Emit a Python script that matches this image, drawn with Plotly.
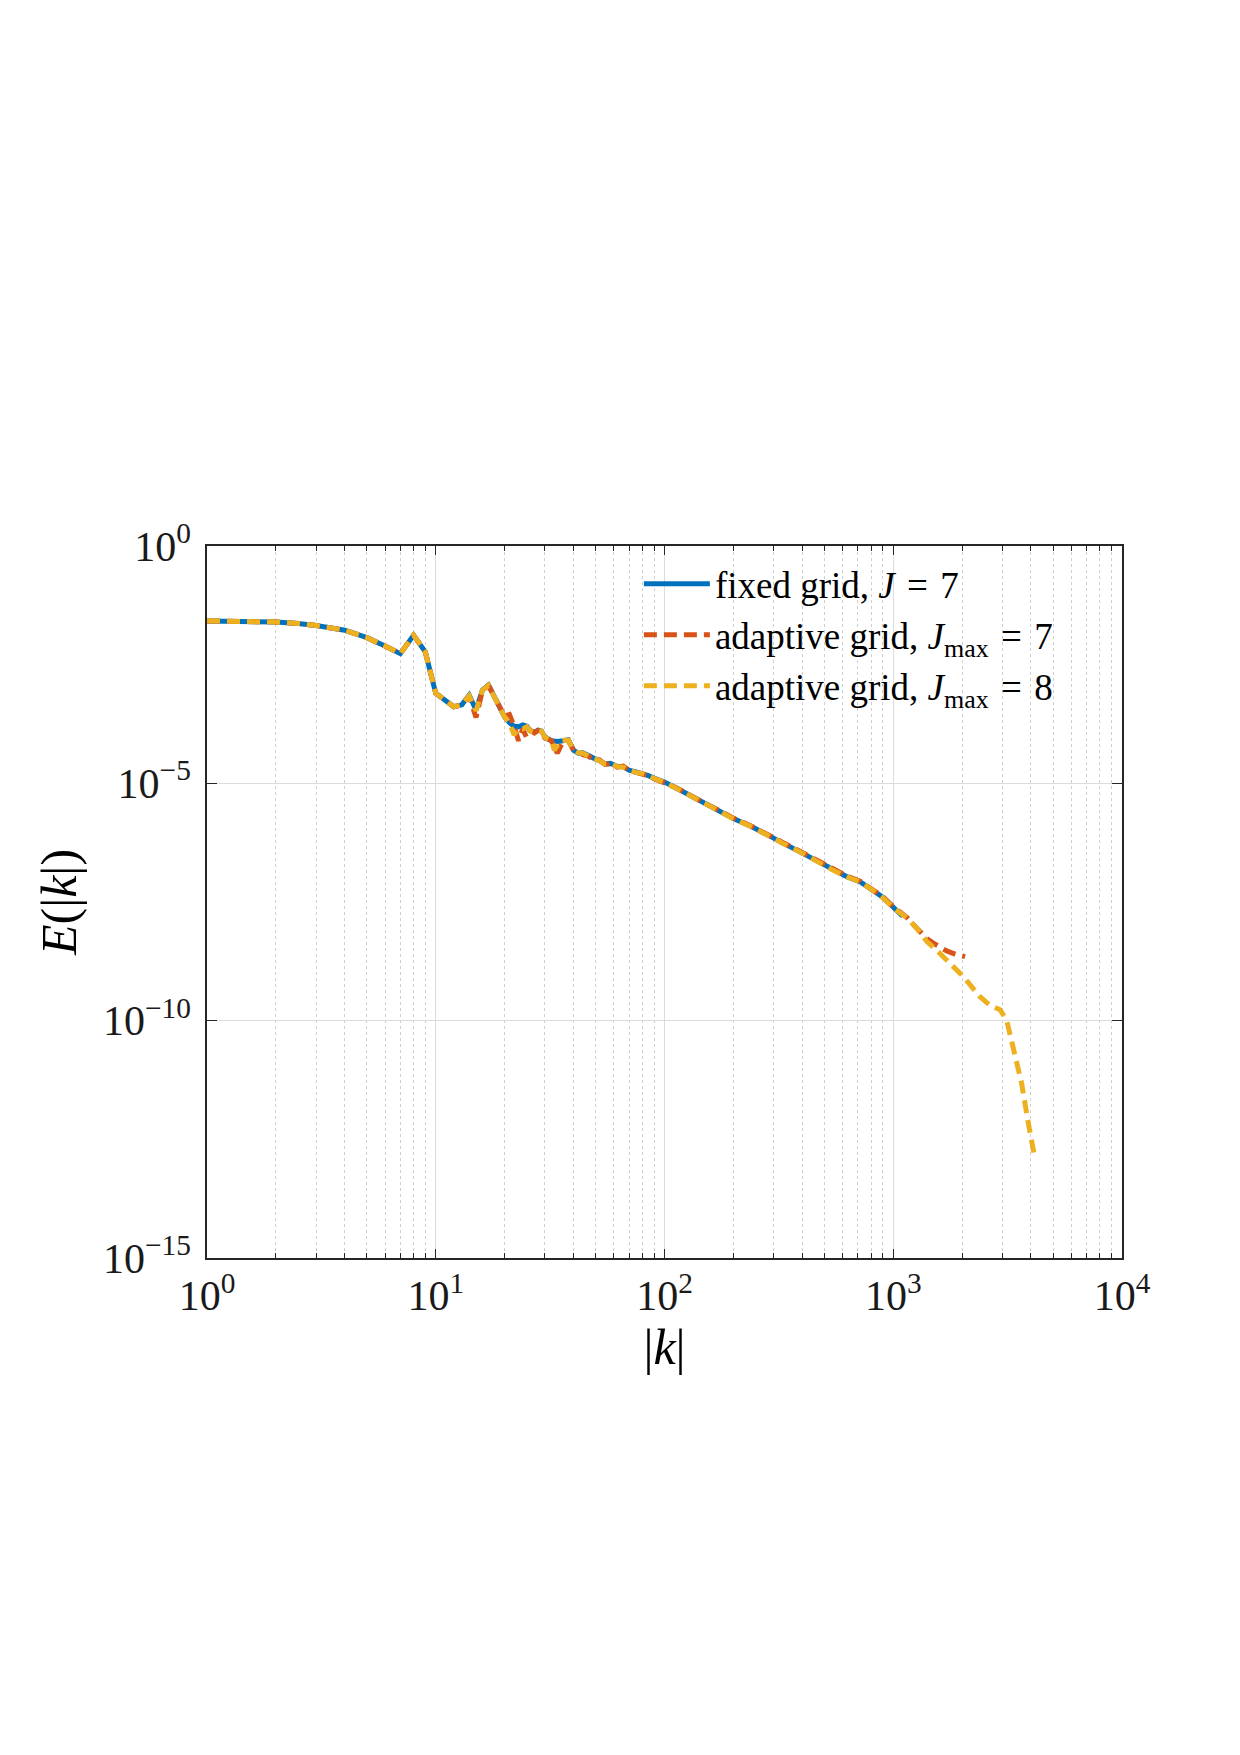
import plotly.graph_objects as go

# ---- data ----
k_fixed = [1, 1.5, 2, 2.5, 3, 4, 5, 6, 7, 8, 9, 10, 11, 12, 13, 14, 15, 16, 17, 18, 19,
           20, 21, 22, 23, 24, 25, 26, 27, 28, 29, 30, 32, 34, 36, 38, 40, 42, 44, 46, 49,
           52, 55, 58, 62, 66, 70, 75, 80, 85, 90, 95, 100, 113, 129, 143, 170, 200, 240,
           280, 330, 391, 460, 547, 630, 716, 800, 900, 1011, 1100]
E_fixed = [2.64e-2, 2.60e-2, 2.51e-2, 2.34e-2, 2.11e-2, 1.68e-2, 1.17e-2, 7.8e-3, 5.4e-3,
           1.32e-2, 5.9e-3, 7.9e-4, 5.8e-4, 4.1e-4, 4.5e-4, 7.2e-4, 3.5e-4, 9.3e-4, 1.17e-3,
           7.1e-4, 4.2e-4, 2.5e-4, 1.9e-4, 1.6e-4, 1.55e-4, 1.7e-4, 1.6e-4, 1.26e-4, 1.2e-4,
           1.32e-4, 1.26e-4, 9.5e-5, 7.9e-5, 7.6e-5, 7.9e-5, 8.3e-5, 5.0e-5, 4.3e-5, 4.4e-5,
           3.9e-5, 3.4e-5, 3.0e-5, 2.57e-5, 2.63e-5, 2.29e-5, 2.24e-5, 1.9e-5, 1.74e-5,
           1.62e-5, 1.45e-5, 1.29e-5, 1.2e-5, 1.07e-5, 7.9e-6, 5.6e-6, 4.3e-6, 2.8e-6, 1.82e-6,
           1.23e-6, 8.1e-7, 5.5e-7, 3.6e-7, 2.34e-7, 1.48e-7, 1.07e-7, 8.5e-8, 6.0e-8, 4.0e-8,
           2.34e-8, 1.58e-8]

k_adapt7 = [1, 1.5, 2, 2.5, 3, 4, 5, 6, 7, 8, 9, 10, 11, 12, 13, 14, 15, 16, 17, 18, 19,
            20, 21, 22, 23, 24, 25, 26, 27, 28, 29, 30, 32, 34, 36, 38, 40, 42, 44, 46, 49,
            52, 55, 58, 62, 66, 70, 75, 80, 85, 90, 95, 100, 113, 129, 143, 170, 200, 240,
            280, 330, 391, 460, 547, 630, 716, 800, 900, 1011, 1150, 1266, 1400, 1497, 1600,
            1713, 1850, 2060]
E_adapt7 = [2.64e-2, 2.60e-2, 2.51e-2, 2.34e-2, 2.11e-2, 1.68e-2, 1.17e-2, 7.8e-3, 5.4e-3,
            1.32e-2, 5.9e-3, 7.9e-4, 5.8e-4, 4.1e-4, 4.5e-4, 6.9e-4, 2.45e-4, 9.0e-4, 1.15e-3,
            6.8e-4, 4.0e-4, 2.6e-4, 2.8e-4, 1.6e-4, 7.9e-5, 1.4e-4, 9.1e-5, 1.3e-4, 1.15e-4,
            1.3e-4, 1.2e-4, 9.0e-5, 8.0e-5, 4.3e-5, 7.8e-5, 8.0e-5, 5.0e-5, 4.8e-5, 4.0e-5,
            3.8e-5, 3.2e-5, 3.1e-5, 2.5e-5, 2.6e-5, 2.2e-5, 2.3e-5, 1.85e-5, 1.7e-5, 1.55e-5,
            1.45e-5, 1.25e-5, 1.15e-5, 1.02e-5, 8.0e-6, 5.5e-6, 4.3e-6, 2.8e-6, 1.85e-6,
            1.25e-6, 8.3e-7, 5.6e-7, 3.7e-7, 2.4e-7, 1.5e-7, 1.1e-7, 8.7e-8, 6.2e-8, 4.1e-8,
            2.4e-8, 1.48e-8, 8.9e-9, 5.4e-9, 4.3e-9, 3.5e-9, 2.95e-9, 2.57e-9, 2.24e-9]

k_adapt8 = [1, 1.5, 2, 2.5, 3, 4, 5, 6, 7, 8, 9, 10, 11, 12, 13, 14, 15, 16, 17, 18, 19,
            20, 21, 22, 23, 24, 25, 26, 27, 28, 29, 30, 32, 33, 35, 38, 40, 42, 44, 46, 49,
            52, 55, 58, 62, 66, 70, 75, 80, 85, 90, 95, 100, 113, 129, 143, 170, 200, 240,
            280, 330, 391, 460, 547, 630, 716, 800, 900, 1011, 1150, 1266, 1400, 1601, 1800,
            2024, 2200, 2394, 2650, 2930, 3133, 3300, 3404, 3640, 3895, 4136]
E_adapt8 = [2.64e-2, 2.60e-2, 2.51e-2, 2.34e-2, 2.11e-2, 1.68e-2, 1.17e-2, 7.8e-3, 5.4e-3,
            1.32e-2, 5.9e-3, 7.9e-4, 5.8e-4, 4.1e-4, 4.5e-4, 7.0e-4, 3.4e-4, 9.1e-4, 1.15e-3,
            7.0e-4, 4.1e-4, 2.5e-4, 1.9e-4, 1.05e-4, 1.45e-4, 1.4e-4, 1.55e-4, 1.25e-4,
            1.2e-4, 1.3e-4, 1.25e-4, 9.4e-5, 8.0e-5, 5.0e-5, 7.9e-5, 8.1e-5, 5.0e-5, 4.4e-5,
            4.3e-5, 3.8e-5, 3.3e-5, 3.0e-5, 2.55e-5, 2.6e-5, 2.25e-5, 2.2e-5, 1.88e-5, 1.7e-5,
            1.6e-5, 1.42e-5, 1.27e-5, 1.18e-5, 1.05e-5, 7.8e-6, 5.5e-6, 4.2e-6, 2.8e-6, 1.8e-6,
            1.22e-6, 8.0e-7, 5.4e-7, 3.6e-7, 2.3e-7, 1.47e-7, 1.06e-7, 8.4e-8, 5.9e-8, 3.9e-8,
            2.3e-8, 1.45e-8, 8.9e-9, 4.7e-9, 2.6e-9, 1.51e-9, 8.5e-10, 5.2e-10, 3.2e-10,
            2.1e-10, 1.7e-10, 1.02e-10, 3.5e-11, 1.74e-11, 4.8e-12, 6.9e-13, 1.48e-13]

EQ = "\u2004=\u2004"
series_names = ["fixed grid, <i>J</i>" + EQ + "7",
                "adaptive grid, <i>J</i><sub>max</sub>" + EQ + "7",
                "adaptive grid, <i>J</i><sub>max</sub>" + EQ + "8"]

x_tickvals = [1, 10, 100, 1000, 10000]
x_ticktext = ["10<sup>0</sup>", "10<sup>1</sup>", "10<sup>2</sup>", "10<sup>3</sup>", "10<sup>4</sup>"]
y_tickvals = [1e-15, 1e-10, 1e-5, 1]
y_ticktext = ["10<sup>−15</sup>", "10<sup>−10</sup>", "10<sup>−5</sup>", "10<sup>0</sup>"]
x_minor = [m * 10 ** d for d in range(4) for m in range(2, 10)]

FONT = "Liberation Serif"
AXC = "#262626"

fig = go.Figure()
fig.add_trace(go.Scatter(x=k_fixed, y=E_fixed, mode="lines", name=series_names[0],
                         line=dict(color="#0072BD", width=5)))
fig.add_trace(go.Scatter(x=k_adapt7, y=E_adapt7, mode="lines", name=series_names[1],
                         line=dict(color="#D95319", width=5, dash="13px,7px")))
fig.add_trace(go.Scatter(x=k_adapt8, y=E_adapt8, mode="lines", name=series_names[2],
                         line=dict(color="#EDB120", width=5, dash="13px,7px")))

fig.update_layout(
    width=1240, height=1755,
    margin=dict(l=207, r=118, t=546, b=497),
    paper_bgcolor="white", plot_bgcolor="white",
    font=dict(family=FONT, color="#000000", size=36),
    legend=dict(x=0.472, y=0.99, xanchor="left", yanchor="top",
                bgcolor="rgba(0,0,0,0)", font=dict(size=37, family=FONT),
                itemwidth=66, tracegroupgap=0),
    showlegend=True,
)
fig.update_xaxes(
    type="log", range=[0, 4], showline=True, linecolor=AXC, linewidth=1.5, mirror="ticks",
    ticks="inside", ticklen=9, tickwidth=1.3, tickcolor=AXC,
    tickmode="array", tickvals=x_tickvals, ticktext=x_ticktext,
    tickfont=dict(size=42, family=FONT, color="#1a1a1a"),
    showgrid=True, gridcolor="#dcdcdc", gridwidth=1.2, zeroline=False,
    minor=dict(tickmode="array", tickvals=x_minor, ticks="inside", ticklen=5,
               tickcolor=AXC, showgrid=True, gridcolor="#cfcfcf", griddash="dot", gridwidth=1),
    title=dict(text="|<i>k</i>|", font=dict(size=50, family=FONT), standoff=3),
)
fig.update_yaxes(
    type="log", range=[-15, 0], showline=True, linecolor=AXC, linewidth=1.5, mirror="ticks",
    ticks="inside", ticklen=10, tickwidth=1.3, tickcolor=AXC,
    tickmode="array", tickvals=y_tickvals, ticktext=y_ticktext,
    tickfont=dict(size=42, family=FONT, color="#1a1a1a"), ticklabelstandoff=6,
    showgrid=True, gridcolor="#dcdcdc", gridwidth=1.2, zeroline=False,
    title=dict(text="<i>E</i>(|<i>k</i>|)", font=dict(size=50, family=FONT), standoff=10),
)

fig.write_html("out.html")
